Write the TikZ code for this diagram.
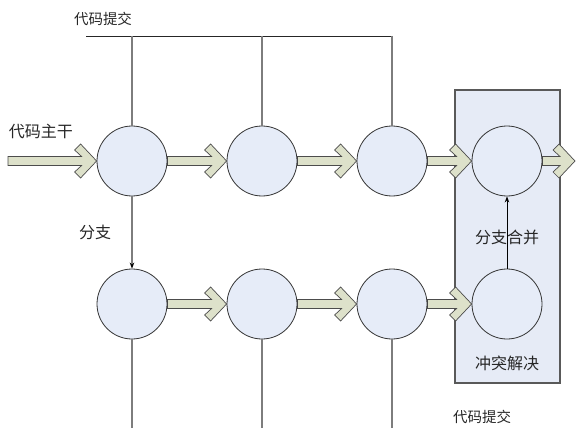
\documentclass[tikz,border=0pt]{standalone}
\usepackage{fontspec}
\newfontfamily\cjk{Noto Sans CJK SC}
\usetikzlibrary{calc,arrows.meta,backgrounds}

\definecolor{nodefill}{RGB}{230,236,248}
\definecolor{boxfill}{RGB}{230,235,246}
\definecolor{arrfill}{RGB}{221,225,202}
\definecolor{edgegray}{RGB}{125,125,125}

\tikzset{
  commit/.style={circle, draw=black!80, fill=nodefill, line width=0.8pt,
    minimum size=70pt, inner sep=0pt},
  lbl/.style={font=\cjk\fontsize{16}{18}\selectfont, text=black!85, inner sep=0pt},
  smalllbl/.style={font=\cjk\fontsize{14.5}{16}\selectfont, text=black!85, inner sep=0pt},
  fat/.style={draw=black!70, fill=arrfill, line width=0.7pt, line join=miter},
  link/.style={draw=edgegray, line width=1.4pt},
  topline/.style={draw=black!85, line width=0.9pt},
  mergebox/.style={draw=black!65, fill=boxfill, line width=1.2pt,
    minimum width=105pt, minimum height=293pt, inner sep=0pt},
}

% block arrow with a chevron head, from the x of #1 to the tip at #2
\newcommand\fatarrow[2]{%
  \path[fat] let \p1=(#1), \p2=(#2) in
    (\x1,\y2+4.5pt) -- (\x2-15pt,\y2+4.5pt) -- (\x2-22pt,\y2+11pt)
    -- (\x2-16pt,\y2+17pt) -- (\x2,\y2) -- (\x2-16pt,\y2-17pt)
    -- (\x2-22pt,\y2-11pt) -- (\x2-15pt,\y2-4.5pt) -- (\x1,\y2-4.5pt) -- cycle;
}

\begin{document}
\begin{tikzpicture}[x=1pt,y=-1pt]
  \useasboundingbox (0,0) rectangle (576,428);

  % commits on the trunk
  \node[commit] (t1) at (132,161) {};
  \node[commit] (t2) at (262,161) {};
  \node[commit] (t3) at (392,161) {};
  \node[commit] (t4) at (507,161) {};
  % commits on the branch
  \node[commit] (b1) at (132,304) {};
  \node[commit] (b2) at (262,304) {};
  \node[commit] (b3) at (392,304) {};
  \node[commit] (b4) at (507,304) {};

  \coordinate (start) at (8,161);
  \coordinate (out) at (575,161);
  \coordinate (tl) at (86,36);
  \coordinate (tr) at (392,36);
  \coordinate (floor) at (0,428);

  \begin{pgfonlayer}{background}
    \node[mergebox] (box) at (507.5,236.5) {};
    \fatarrow{start}{t1.west}
    \fatarrow{t1.east}{t2.west}
    \fatarrow{t2.east}{t3.west}
    \fatarrow{t3.east}{t4.west}
    \fatarrow{t4.east}{out}
    \fatarrow{b1.east}{b2.west}
    \fatarrow{b2.east}{b3.west}
    \fatarrow{b3.east}{b4.west}
  \end{pgfonlayer}

  % commit lines from above
  \draw[topline] (tl) -- (tr);
  \draw[link] (t1.north |- tl) -- (t1.north);
  \draw[link] (t2.north |- tl) -- (t2.north);
  \draw[link] (t3.north |- tl) -- (t3.north);

  % commit lines from below
  \draw[link] (b1.south) -- (b1.south |- floor);
  \draw[link] (b2.south) -- (b2.south |- floor);
  \draw[link] (b3.south) -- (b3.south |- floor);

  % branching off and merging back
  \draw[link, -{Stealth[length=6pt,width=4.5pt,color=black]}] (t1.south) -- (b1.north);
  \draw[black, line width=1pt, -{Stealth[length=6pt,width=4.5pt]}] (b4.north) -- (t4.south);

  % labels
  \node[smalllbl] (ltop) at (103,19) {代码提交};
  \node[lbl] (ltrunk) at (41,131) {代码主干};
  \node[lbl] (lbranch) at (95,232) {分支};
  \node[lbl] (lmerge) at (507,237) {分支合并};
  \node[lbl] (lconflict) at (507,363) {冲突解决};
  \node[smalllbl] (lbottom) at (482,417) {代码提交};
\end{tikzpicture}
\end{document}
